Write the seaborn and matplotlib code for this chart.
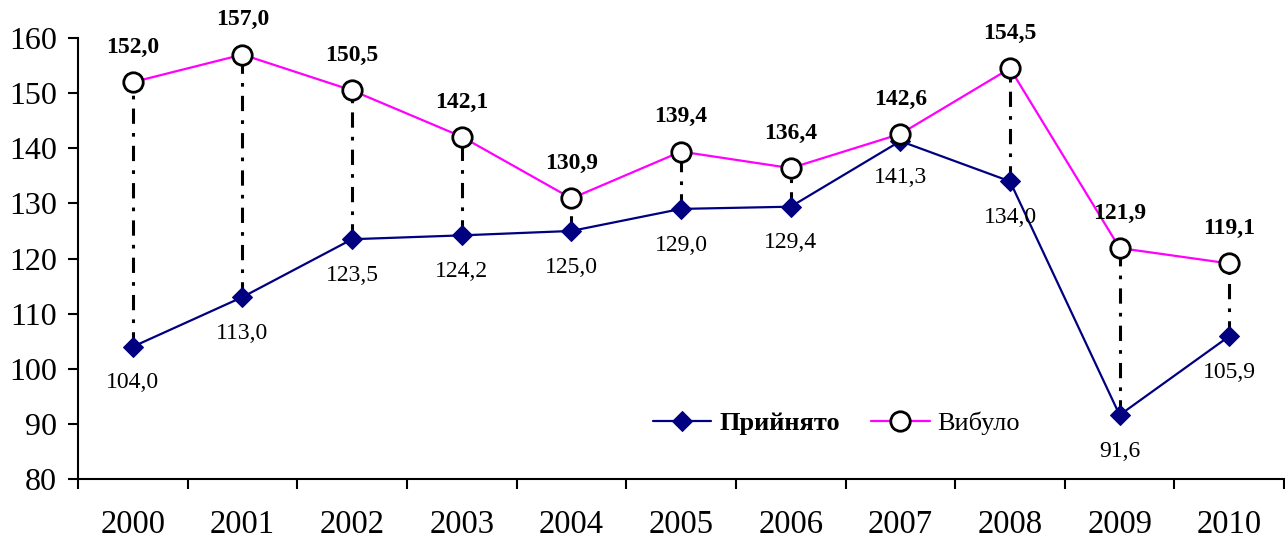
import numpy as np
import pandas as pd
import matplotlib
matplotlib.use("Agg")
import matplotlib.pyplot as plt
from matplotlib.ticker import FixedLocator, MultipleLocator
import seaborn as sns

# données
annees = ["2000", "2001", "2002", "2003", "2004", "2005", "2006", "2007", "2008", "2009", "2010"]
pryiniato = [104.0, 113.0, 123.5, 124.2, 125.0, 129.0, 129.4, 141.3, 134.0, 91.6, 105.9]
vybulo = [152.0, 157.0, 150.5, 142.1, 130.9, 139.4, 136.4, 142.6, 154.5, 121.9, 119.1]

sns.set_theme(style="white")
plt.rcParams['font.family'] = ['Liberation Serif', 'DejaVu Serif']
plt.rcParams['text.color'] = 'black'
plt.rcParams['xtick.color'] = 'black'
plt.rcParams['ytick.color'] = 'black'

df = pd.DataFrame({"pos": np.arange(len(annees)), "Прийнято": pryiniato, "Вибуло": vybulo})

fig = plt.figure(figsize=(12.85, 5.38), dpi=100)
ax = fig.add_axes([0.0607, 0.1097, 0.9386, 0.8196])

# lignes verticales entre les deux séries
for i in range(len(annees)):
    ax.plot([i, i], [pryiniato[i], vybulo[i]], color="black", lw=2.2,
            dashes=(5, 3, 1.2, 3), zorder=1)

sns.lineplot(data=df, x="pos", y="Прийнято", ax=ax, color="#000080", lw=1.6,
             marker="D", markersize=10, markerfacecolor="#000080", markeredgecolor="#000080",
             label="Прийнято", zorder=3)
sns.lineplot(data=df, x="pos", y="Вибуло", ax=ax, color="#FF00FF", lw=1.6,
             marker="o", markersize=14, markerfacecolor="white", markeredgecolor="black",
             markeredgewidth=2, label="Вибуло", zorder=3)

# étiquettes des valeurs
for i in range(len(annees)):
    ax.annotate(f"{vybulo[i]:.1f}".replace(".", ","), (i, vybulo[i]), xytext=(0, 25),
                textcoords="offset points", ha="center", va="center",
                fontsize=17, fontweight="bold", color="black")
    ax.annotate(f"{pryiniato[i]:.1f}".replace(".", ","), (i, pryiniato[i]), xytext=(0, -26),
                textcoords="offset points", ha="center", va="center",
                fontsize=17, color="black")

ax.set_xlim(-0.5, len(annees) - 0.5)
ax.set_ylim(80, 160)
ax.yaxis.set_major_locator(MultipleLocator(10))
ax.set_xticks(np.arange(len(annees)))
ax.set_xticklabels(annees)
ax.xaxis.set_minor_locator(FixedLocator(np.arange(-0.5, len(annees), 1.0)))
ax.tick_params(axis="x", which="major", length=0, pad=22, labelsize=23.5, colors="black")
ax.tick_params(axis="x", which="minor", length=7, width=1.5, direction="out", bottom=True, color="black")
ax.tick_params(axis="y", which="major", length=7, width=1.5, direction="out", left=True,
               pad=8, labelsize=23, colors="black")
ax.set_xlabel("")
ax.set_ylabel("")

for s in ["top", "right"]:
    ax.spines[s].set_visible(False)
for s in ["left", "bottom"]:
    ax.spines[s].set_color("black")
    ax.spines[s].set_linewidth(1.5)

leg = ax.legend(loc="center", bbox_to_anchor=(0.629, 0.126), ncol=2, frameon=False,
                fontsize=19, handlelength=2.2, columnspacing=1.2, handletextpad=0.3)
leg.get_texts()[0].set_fontweight("bold")
for t in leg.get_texts():
    t.set_color("black")

fig.savefig("out.png", dpi=100)
